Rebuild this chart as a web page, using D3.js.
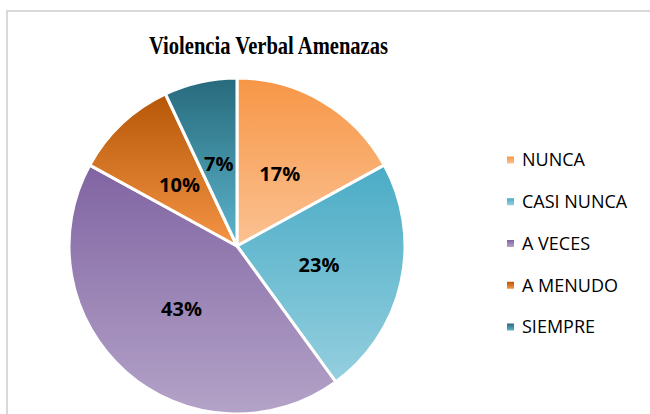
<!DOCTYPE html>
<html><head><meta charset="utf-8">
<script src="https://cdn.jsdelivr.net/npm/d3@7/dist/d3.min.js"></script>
<style>html,body{margin:0;padding:0;background:#fff;overflow:hidden}</style>
</head><body>
<svg id="c" width="650" height="414"></svg>
<script>
const categories = ["NUNCA","CASI NUNCA","A VECES","A MENUDO","SIEMPRE"];
const values = [17,23,43,10,7];
const labels = ["17%","23%","43%","10%","7%"];
const topColors = ["#f79646","#4bacc6","#8064a2","#b65708","#276a7c"];
const bottomColors = ["#fbc293","#94cfdf","#b4a3c8","#f49444","#5db4cc"];
const title = "Violencia Verbal Amenazas";

const svg = d3.select("#c");
const defs = svg.append("defs");
categories.forEach((c,i)=>{
  const g = defs.append("linearGradient").attr("id","g"+i)
    .attr("x1",0).attr("y1",0).attr("x2",0).attr("y2",1);
  g.append("stop").attr("offset","0%").attr("stop-color",topColors[i]);
  g.append("stop").attr("offset","100%").attr("stop-color",bottomColors[i]);
});

// frame
svg.append("path").attr("d","M7,414 V11 H650").attr("fill","none")
  .attr("stroke","#d9d9d9").attr("stroke-width",2);

svg.append("text").attr("x",268.5).attr("y",54).attr("text-anchor","middle")
  .attr("font-family","Liberation Serif, serif").attr("font-weight","bold")
  .attr("font-size",25).attr("textLength",239).attr("lengthAdjust","spacingAndGlyphs")
  .attr("fill","#000").text(title);

const cx=237, cy=246, r=168;
const pie = d3.pie().sort(null).value(d=>d)(values);
const arc = d3.arc().innerRadius(0).outerRadius(r);
const labelArc = d3.arc().innerRadius(r*0.5).outerRadius(r*0.5);
const g = svg.append("g").attr("transform",`translate(${cx},${cy})`);
g.selectAll("path.s").data(pie).join("path").attr("class","s")
  .attr("d",arc).attr("fill",(d,i)=>`url(#g${i})`)
  .attr("stroke","#fff").attr("stroke-width",3).attr("stroke-linejoin","round");
g.selectAll("text.l").data(pie).join("text").attr("class","l")
  .attr("transform",d=>`translate(${labelArc.centroid(d)})`)
  .attr("text-anchor","middle").attr("dy","0.36em")
  .attr("font-family","Open Sans, sans-serif").attr("font-weight","bold")
  .attr("font-size",20).attr("fill","#000")
  .text((d,i)=>labels[i]);

// legend
const ly = d3.scalePoint().domain(categories).range([160,327]);
const lg = svg.append("g");
lg.selectAll("rect").data(categories).join("rect")
  .attr("x",507).attr("y",d=>ly(d)-3.5).attr("width",7).attr("height",7)
  .attr("fill",(d,i)=>`url(#g${i})`);
lg.selectAll("text").data(categories).join("text")
  .attr("x",522).attr("y",d=>ly(d)).attr("dy","0.36em")
  .attr("font-family","Open Sans, sans-serif").attr("font-size",18)
  .attr("fill","#000").text(d=>d);
</script>
</body></html>
